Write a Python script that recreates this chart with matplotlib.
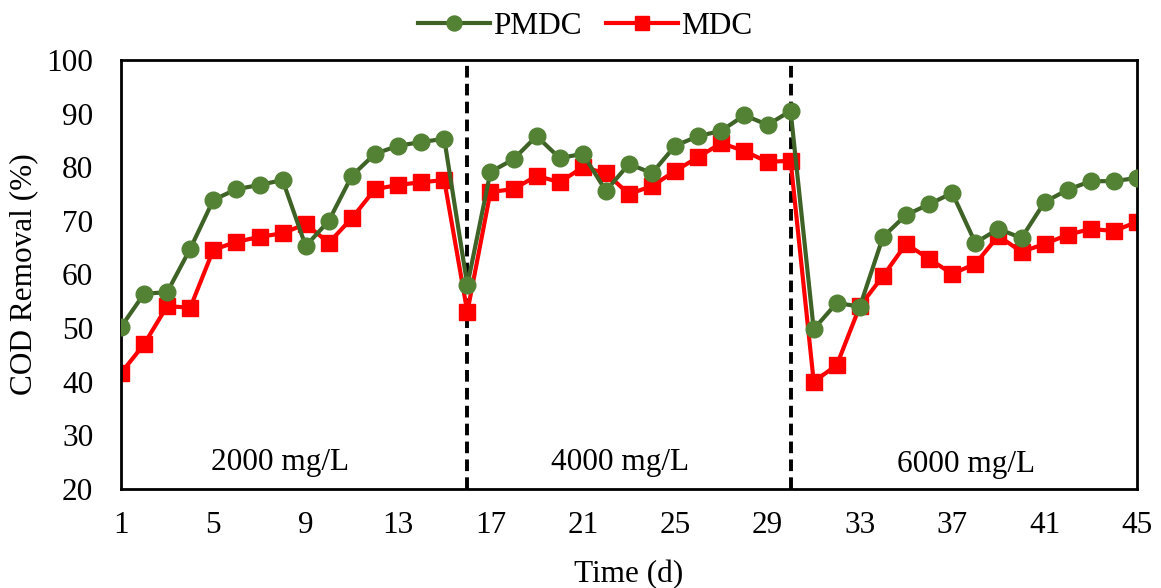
import numpy as np
import matplotlib
matplotlib.use('Agg')
import matplotlib.pyplot as plt

plt.rcParams['font.family'] = ['Liberation Serif', 'DejaVu Serif']

days = np.arange(1, 46)

pmdc = [50.2, 56.4, 56.7, 64.8, 73.9, 75.9, 76.7, 77.6, 65.3, 70.0,
        78.4, 82.5, 84.0, 84.7, 85.3, 58.0, 79.1, 81.5, 85.8, 81.7,
        82.5, 75.6, 80.6, 78.9, 84.0, 85.8, 86.8, 89.7, 87.9, 90.5,
        49.8, 54.7, 54.0, 67.0, 71.1, 73.1, 75.2, 65.9, 68.5, 66.8,
        73.5, 75.8, 77.4, 77.4, 78.0]

mdc = [41.6, 47.0, 54.1, 53.8, 64.6, 66.1, 67.0, 67.7, 69.4, 65.9,
       70.5, 75.9, 76.7, 77.2, 77.6, 53.0, 75.4, 75.9, 78.4, 77.2,
       80.0, 78.9, 75.0, 76.5, 79.3, 81.9, 84.5, 83.0, 81.0, 81.2,
       40.0, 43.1, 54.1, 59.7, 65.7, 62.9, 60.1, 62.0, 67.2, 64.2,
       65.7, 67.4, 68.5, 68.1, 69.8]

dividers = [16, 30]
phase_labels = ['2000 mg/L', '4000 mg/L', '6000 mg/L']
phase_x = [7.9, 22.6, 37.6]
phase_y = [25.0, 25.0, 24.5]

fs = 22.5

fig = plt.figure(figsize=(11.61, 5.88), dpi=100)
ax = fig.add_axes([0.1042, 0.1684, 0.8751, 0.7296])

for d in dividers:
    ax.axvline(d, color='black', lw=2.8, ls=(0, (3, 1.6)), zorder=1)

ax.plot(days, pmdc, color='#3F6326', lw=3, marker='o', ms=12,
        mfc='#548235', mec='#548235', label='PMDC', zorder=3)
ax.plot(days, mdc, color='#FF0000', lw=3, marker='s', ms=11,
        mfc='#FF0000', mec='#FF0000', label='MDC', zorder=2)

for t, x, y in zip(phase_labels, phase_x, phase_y):
    ax.text(x, y, t, fontsize=fs, ha='center', va='center')

ax.set_xlim(1, 45)
ax.set_ylim(20, 100)
ax.set_xticks(np.arange(1, 46, 4))
ax.set_yticks(np.arange(20, 101, 10))
ax.tick_params(length=0, labelsize=fs)
ax.tick_params(axis='x', pad=16)
ax.tick_params(axis='y', pad=20)
for s in ax.spines.values():
    s.set_linewidth(2)

ax.set_xlabel('Time (d)', fontsize=fs, labelpad=14)
ax.set_ylabel('COD Removal (%)', fontsize=fs, labelpad=6)

ax.legend(loc='lower center', bbox_to_anchor=(0.457, 1.0), ncol=2,
          frameon=False, fontsize=fs, handlelength=2.3, handletextpad=0.1,
          columnspacing=0.8, markerscale=0.9, borderpad=0.1)

fig.savefig('out.png', dpi=100)
